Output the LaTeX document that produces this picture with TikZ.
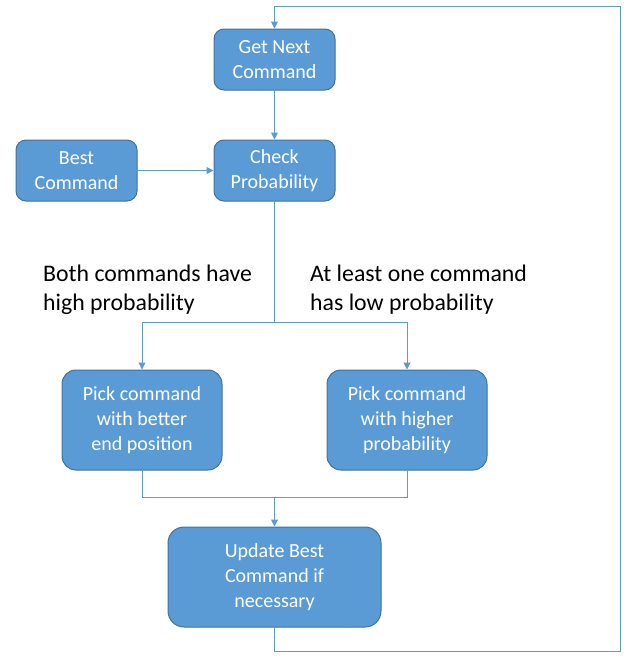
\documentclass[tikz,border=0pt]{standalone}
\usepackage{fontspec}
\setmainfont{Carlito}
\usetikzlibrary{arrows.meta}
\definecolor{boxfill}{HTML}{5B9BD5}
\definecolor{boxline}{HTML}{41719C}
\definecolor{conn}{HTML}{5B9BD5}
\begin{document}
\begin{tikzpicture}[x=1pt,y=-1pt,
  box/.style={draw=boxline, fill=boxfill, line width=1pt, rounded corners=10pt,
    text=white, align=center, inner sep=0pt, font=\fontsize{20}{25}\selectfont},
  lbl/.style={anchor=north west, align=left, inner sep=0pt, font=\fontsize{23.8}{29}\selectfont},
  conn/.style={draw=conn, line width=1pt, -{Triangle[length=7pt,width=7pt]}},
  plain/.style={draw=conn, line width=1pt}]
\useasboundingbox (0,0) rectangle (637,662);
\node[box, minimum width=121pt, minimum height=61pt] (gnc) at (274.5,59.5) {Get Next\\Command};
\node[box, minimum width=121pt, minimum height=61pt] (best) at (76.5,170.5) {Best\\Command};
\node[box, minimum width=121pt, minimum height=61pt] (chk) at (274.5,170.5) {Check\\Probability};
\node[box, minimum width=160pt, minimum height=100pt, rounded corners=14pt] (pa) at (142,420) {Pick command\\with better\\end position};
\node[box, minimum width=160pt, minimum height=100pt, rounded corners=14pt] (pb) at (407,420) {Pick command\\with higher\\probability};
\node[box, minimum width=213pt, minimum height=100pt, rounded corners=16pt] (upd) at (274.5,577) {Update Best\\Command if\\necessary};
\node[lbl] (l1) at (43,265) {Both commands have\\high probability};
\node[lbl] (l2) at (310,265) {At least one command\\has low probability};
\coordinate (split) at (274.5,322);
\coordinate (join) at (274.5,497);
\draw[conn] (best) -- (chk);
\draw[conn] (gnc) -- (chk);
\draw[plain] (chk) -- (split);
\draw[conn] (split) -| (pa.north);
\draw[conn] (split) -| (pb.north);
\draw[plain] (pa.south) |- (join);
\draw[plain] (pb.south) |- (join);
\draw[conn] (join) -- (upd);
\coordinate (c1) at (620.5,651);
\coordinate (c2) at (620.5,6.5);
\draw[conn] (upd.south) |- (c1) -- (c2) -| (gnc.north);
\end{tikzpicture}
\end{document}
